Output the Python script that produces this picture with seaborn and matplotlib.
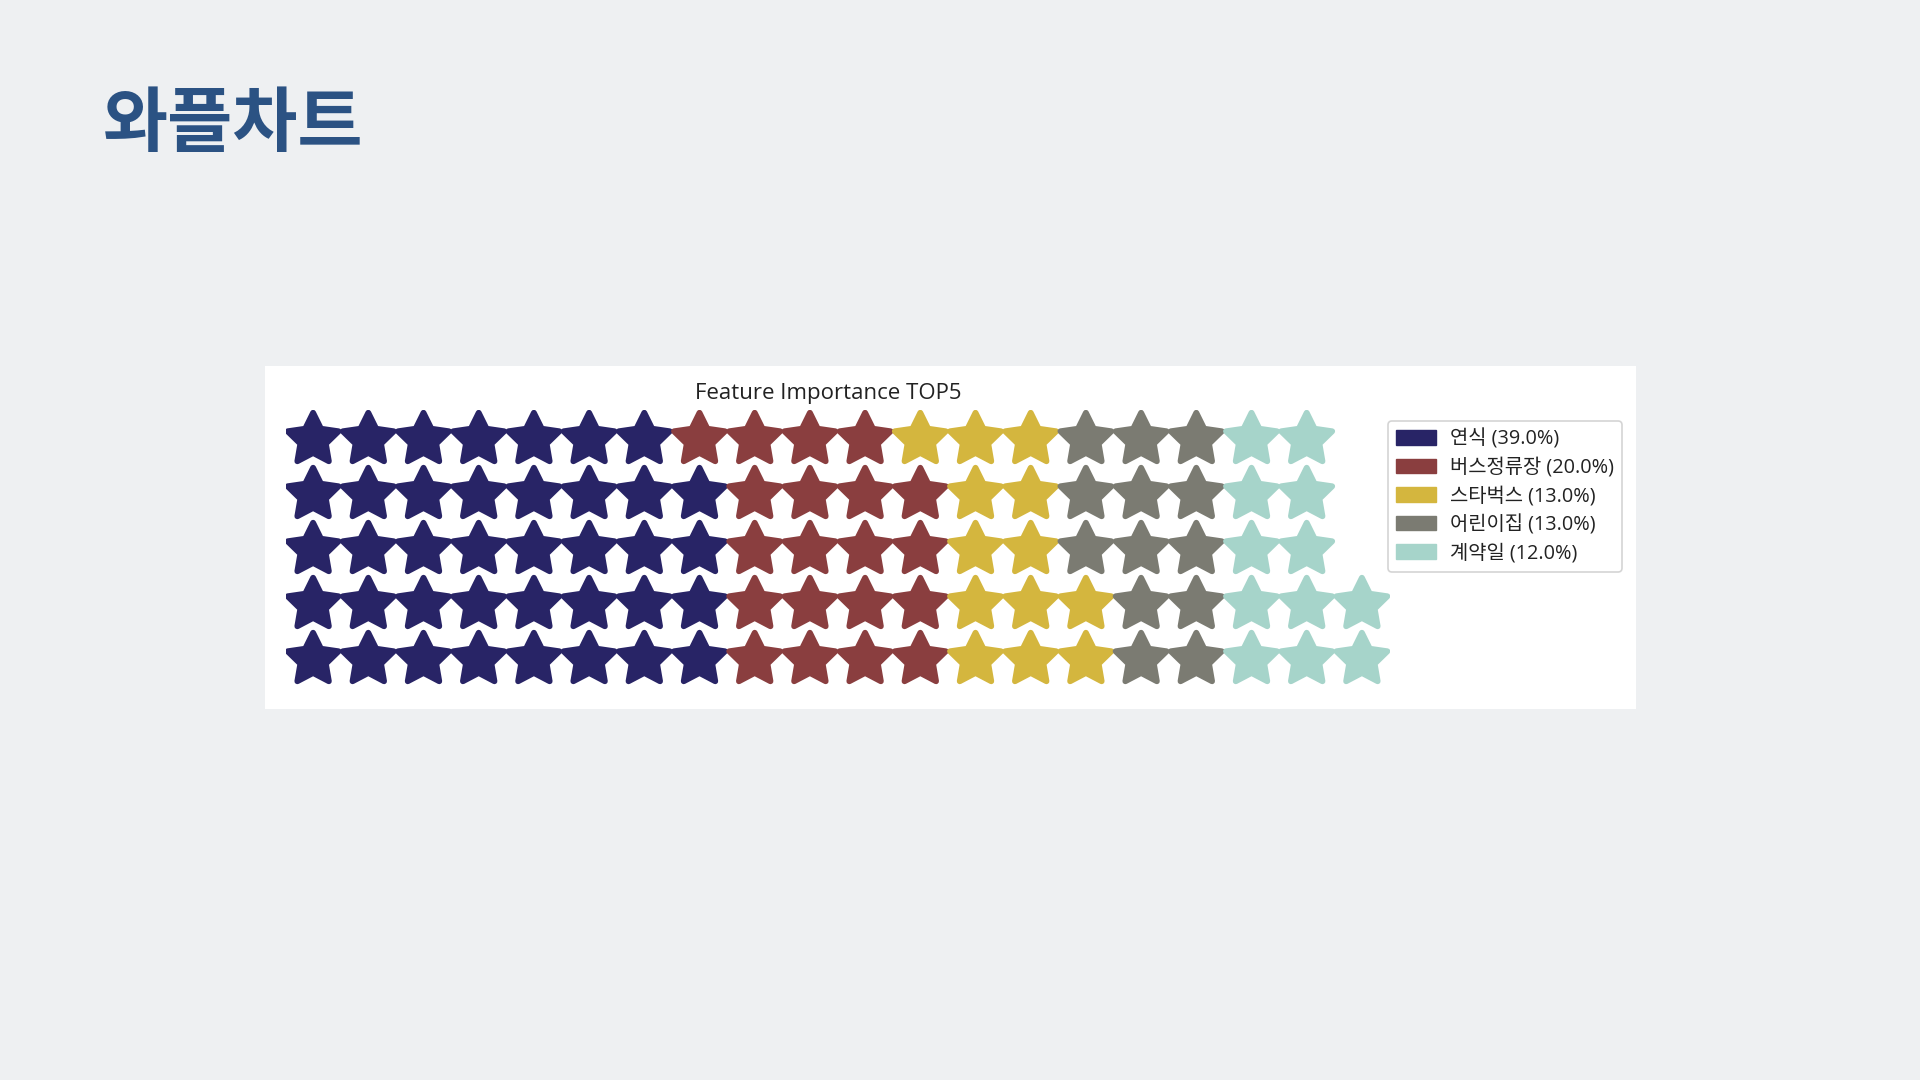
import matplotlib
matplotlib.use("Agg")
import matplotlib.pyplot as plt
from matplotlib.patches import Patch
from matplotlib.path import Path
import numpy as np
import pandas as pd
import seaborn as sns

# data
features = ["연식", "버스정류장", "스타벅스", "어린이집", "계약일"]
importance = [39, 20, 13, 13, 12]
colors = ["#282466", "#8a3e3f", "#d4b63e", "#7b7b72", "#a6d4ca"]
chart_title = "Feature Importance TOP5"
slide_title = "와플차트"
n_rows = 5

sns.set_theme(style="white")
plt.rcParams["font.family"] = ["Open Sans", "Noto Sans CJK KR", "DejaVu Sans"]

# waffle cells, filled column by column from the bottom-left
cells = []
i = 0
for name, v in zip(features, importance):
    for _ in range(v):
        cells.append({"col": i // n_rows, "row": i % n_rows, "feature": name})
        i += 1
df = pd.DataFrame(cells)
n_cols = df["col"].max() + 1

# rounded five-point star marker
ang = np.pi / 2 + np.arange(10) * np.pi / 5
rad = np.where(np.arange(10) % 2 == 0, 1.0, 0.5)
verts = np.column_stack([rad * np.cos(ang), rad * np.sin(ang) - 0.0955])
verts = np.vstack([verts, verts[:1]])
codes = [Path.MOVETO] + [Path.LINETO] * 9 + [Path.CLOSEPOLY]
star = Path(verts, codes)

W, H = 1920, 1080
fig = plt.figure(figsize=(19.2, 10.8), dpi=100, facecolor="#eef0f2")

def px_axes(x0, y0, x1, y1, **kw):
    return fig.add_axes([x0 / W, 1 - y1 / H, (x1 - x0) / W, (y1 - y0) / H], **kw)

fig.text(103 / W, 1 - 125 / H, slide_title, fontsize=51, fontweight="bold",
         color="#2b5283", va="center", ha="left",
         family=["Noto Sans CJK KR", "DejaVu Sans"])

# white panel holding the chart image
panel = px_axes(265, 366, 1636, 709)
panel.set_facecolor("white")
panel.set_xticks([])
panel.set_yticks([])
for s in panel.spines.values():
    s.set_visible(False)

ax = px_axes(285.5, 409.5, 1389.5, 684.5)
ax.patch.set_alpha(0)
sns.scatterplot(data=df, x="col", y="row", hue="feature", hue_order=features,
                palette=colors, marker=star, s=1350, linewidth=4.2,
                edgecolor="face", legend=False, ax=ax, joinstyle="round")
ax.set_xlim(-0.5, n_cols - 0.5)
ax.set_ylim(-0.5, n_rows - 0.5)
ax.set_axis_off()

fig.text(828 / W, 1 - 394 / H, chart_title, fontsize=16, color="#222222",
         ha="center", va="center")

handles = [Patch(facecolor=c, edgecolor=c) for c in colors]
labels = [f"{n} ({v:.1f}%)" for n, v in zip(features, importance)]
leg = fig.legend(handles, labels, loc="upper left",
                 bbox_to_anchor=(1388 / W, 1 - 421 / H), borderaxespad=0,
                 fontsize=14.3, handlelength=2.0, handleheight=0.75,
                 handletextpad=0.7, labelspacing=0.43, borderpad=0.4,
                 frameon=True, fancybox=True, framealpha=1)
leg.get_frame().set_edgecolor("#d4d4d4")
leg.get_frame().set_linewidth(1.2)
for t in leg.get_texts():
    t.set_color("#222222")

fig.savefig("out.png", dpi=100, facecolor=fig.get_facecolor())
